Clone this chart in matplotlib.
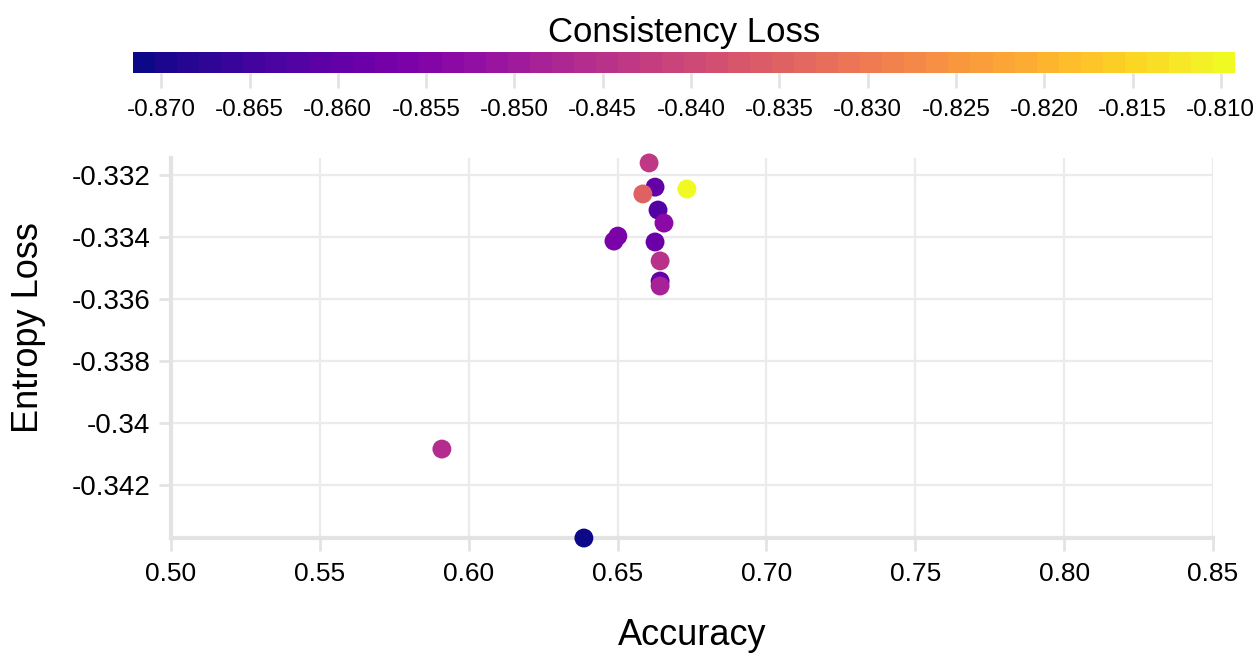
import numpy as np
import matplotlib
matplotlib.use("Agg")
from matplotlib import pyplot as plt
from matplotlib.colors import ListedColormap, Normalize

plt.rcParams['font.family'] = ['Liberation Sans', 'DejaVu Sans']

# results per run
accuracy = [0.6606, 0.6626, 0.6585, 0.6733, 0.6636, 0.6656, 0.6501,
            0.6488, 0.6626, 0.6643, 0.6643, 0.6643, 0.5910, 0.6387]
entropy_loss = [-0.33161, -0.33239, -0.33261, -0.33245, -0.33313, -0.33355, -0.33397,
                -0.33413, -0.33416, -0.33477, -0.33542, -0.33558, -0.34084, -0.34371]
consistency_loss = [-0.8434, -0.8600, -0.8350, -0.8092, -0.8620, -0.8530, -0.8560,
                    -0.8560, -0.8590, -0.8450, -0.8600, -0.8480, -0.8465, -0.8716]

x_ticks = [0.50, 0.55, 0.60, 0.65, 0.70, 0.75, 0.80, 0.85]
y_ticks = [-0.332, -0.334, -0.336, -0.338, -0.340, -0.342]
y_ticklabels = ["-0.332", "-0.334", "-0.336", "-0.338", "-0.34", "-0.342"]
cb_ticks = [-0.870, -0.865, -0.860, -0.855, -0.850, -0.845, -0.840,
            -0.835, -0.830, -0.825, -0.820, -0.815, -0.810]

grid_col = "#ebebeb"
line_col = "#e3e3e3"

cmap = ListedColormap(plt.cm.plasma(np.linspace(0, 1, 50)))
norm = Normalize(vmin=min(consistency_loss), vmax=max(consistency_loss))

fig = plt.figure(figsize=(12.58, 6.55), dpi=100)
ax = fig.add_axes([0.1359, 0.1786, 0.8283, 0.5802])

sc = ax.scatter(accuracy, entropy_loss, c=consistency_loss, cmap=cmap, norm=norm,
                s=185, linewidths=0, zorder=3, clip_on=False)

ax.set_xlim(0.5, 0.85)
ax.set_ylim(-0.34371, -0.33145)
ax.set_xticks(x_ticks)
ax.set_xticklabels([f"{v:.2f}" for v in x_ticks])
ax.set_yticks(y_ticks)
ax.set_yticklabels(y_ticklabels)
ax.grid(True, color=grid_col, linewidth=1.6, zorder=0)
ax.set_axisbelow(True)
for side in ["top", "right"]:
    ax.spines[side].set_visible(False)
for side in ["left", "bottom"]:
    ax.spines[side].set_color(line_col)
    ax.spines[side].set_linewidth(3)
ax.tick_params(axis="both", colors=line_col, width=2, length=9,
               labelcolor="black")
ax.tick_params(axis="x", pad=8, labelsize=19)
ax.tick_params(axis="y", pad=6, labelsize=20)
ax.set_xlabel("Accuracy", fontsize=26, labelpad=23)
ax.set_ylabel("Entropy Loss", fontsize=26)
ax.yaxis.set_label_coords(-0.12, 0.553)

cax = fig.add_axes([0.1057, 0.8885, 0.876, 0.0321])
cb = fig.colorbar(sc, cax=cax, orientation="horizontal", ticks=cb_ticks)
cb.outline.set_visible(False)
cb.ax.set_xticklabels([f"{v:.3f}" for v in cb_ticks])
cb.ax.tick_params(colors=line_col, width=2, length=11, labelsize=17.5,
                  labelcolor="black", pad=8)
cb.ax.set_title("Consistency Loss", fontsize=25, pad=7)

fig.savefig("out.png", dpi=100)
